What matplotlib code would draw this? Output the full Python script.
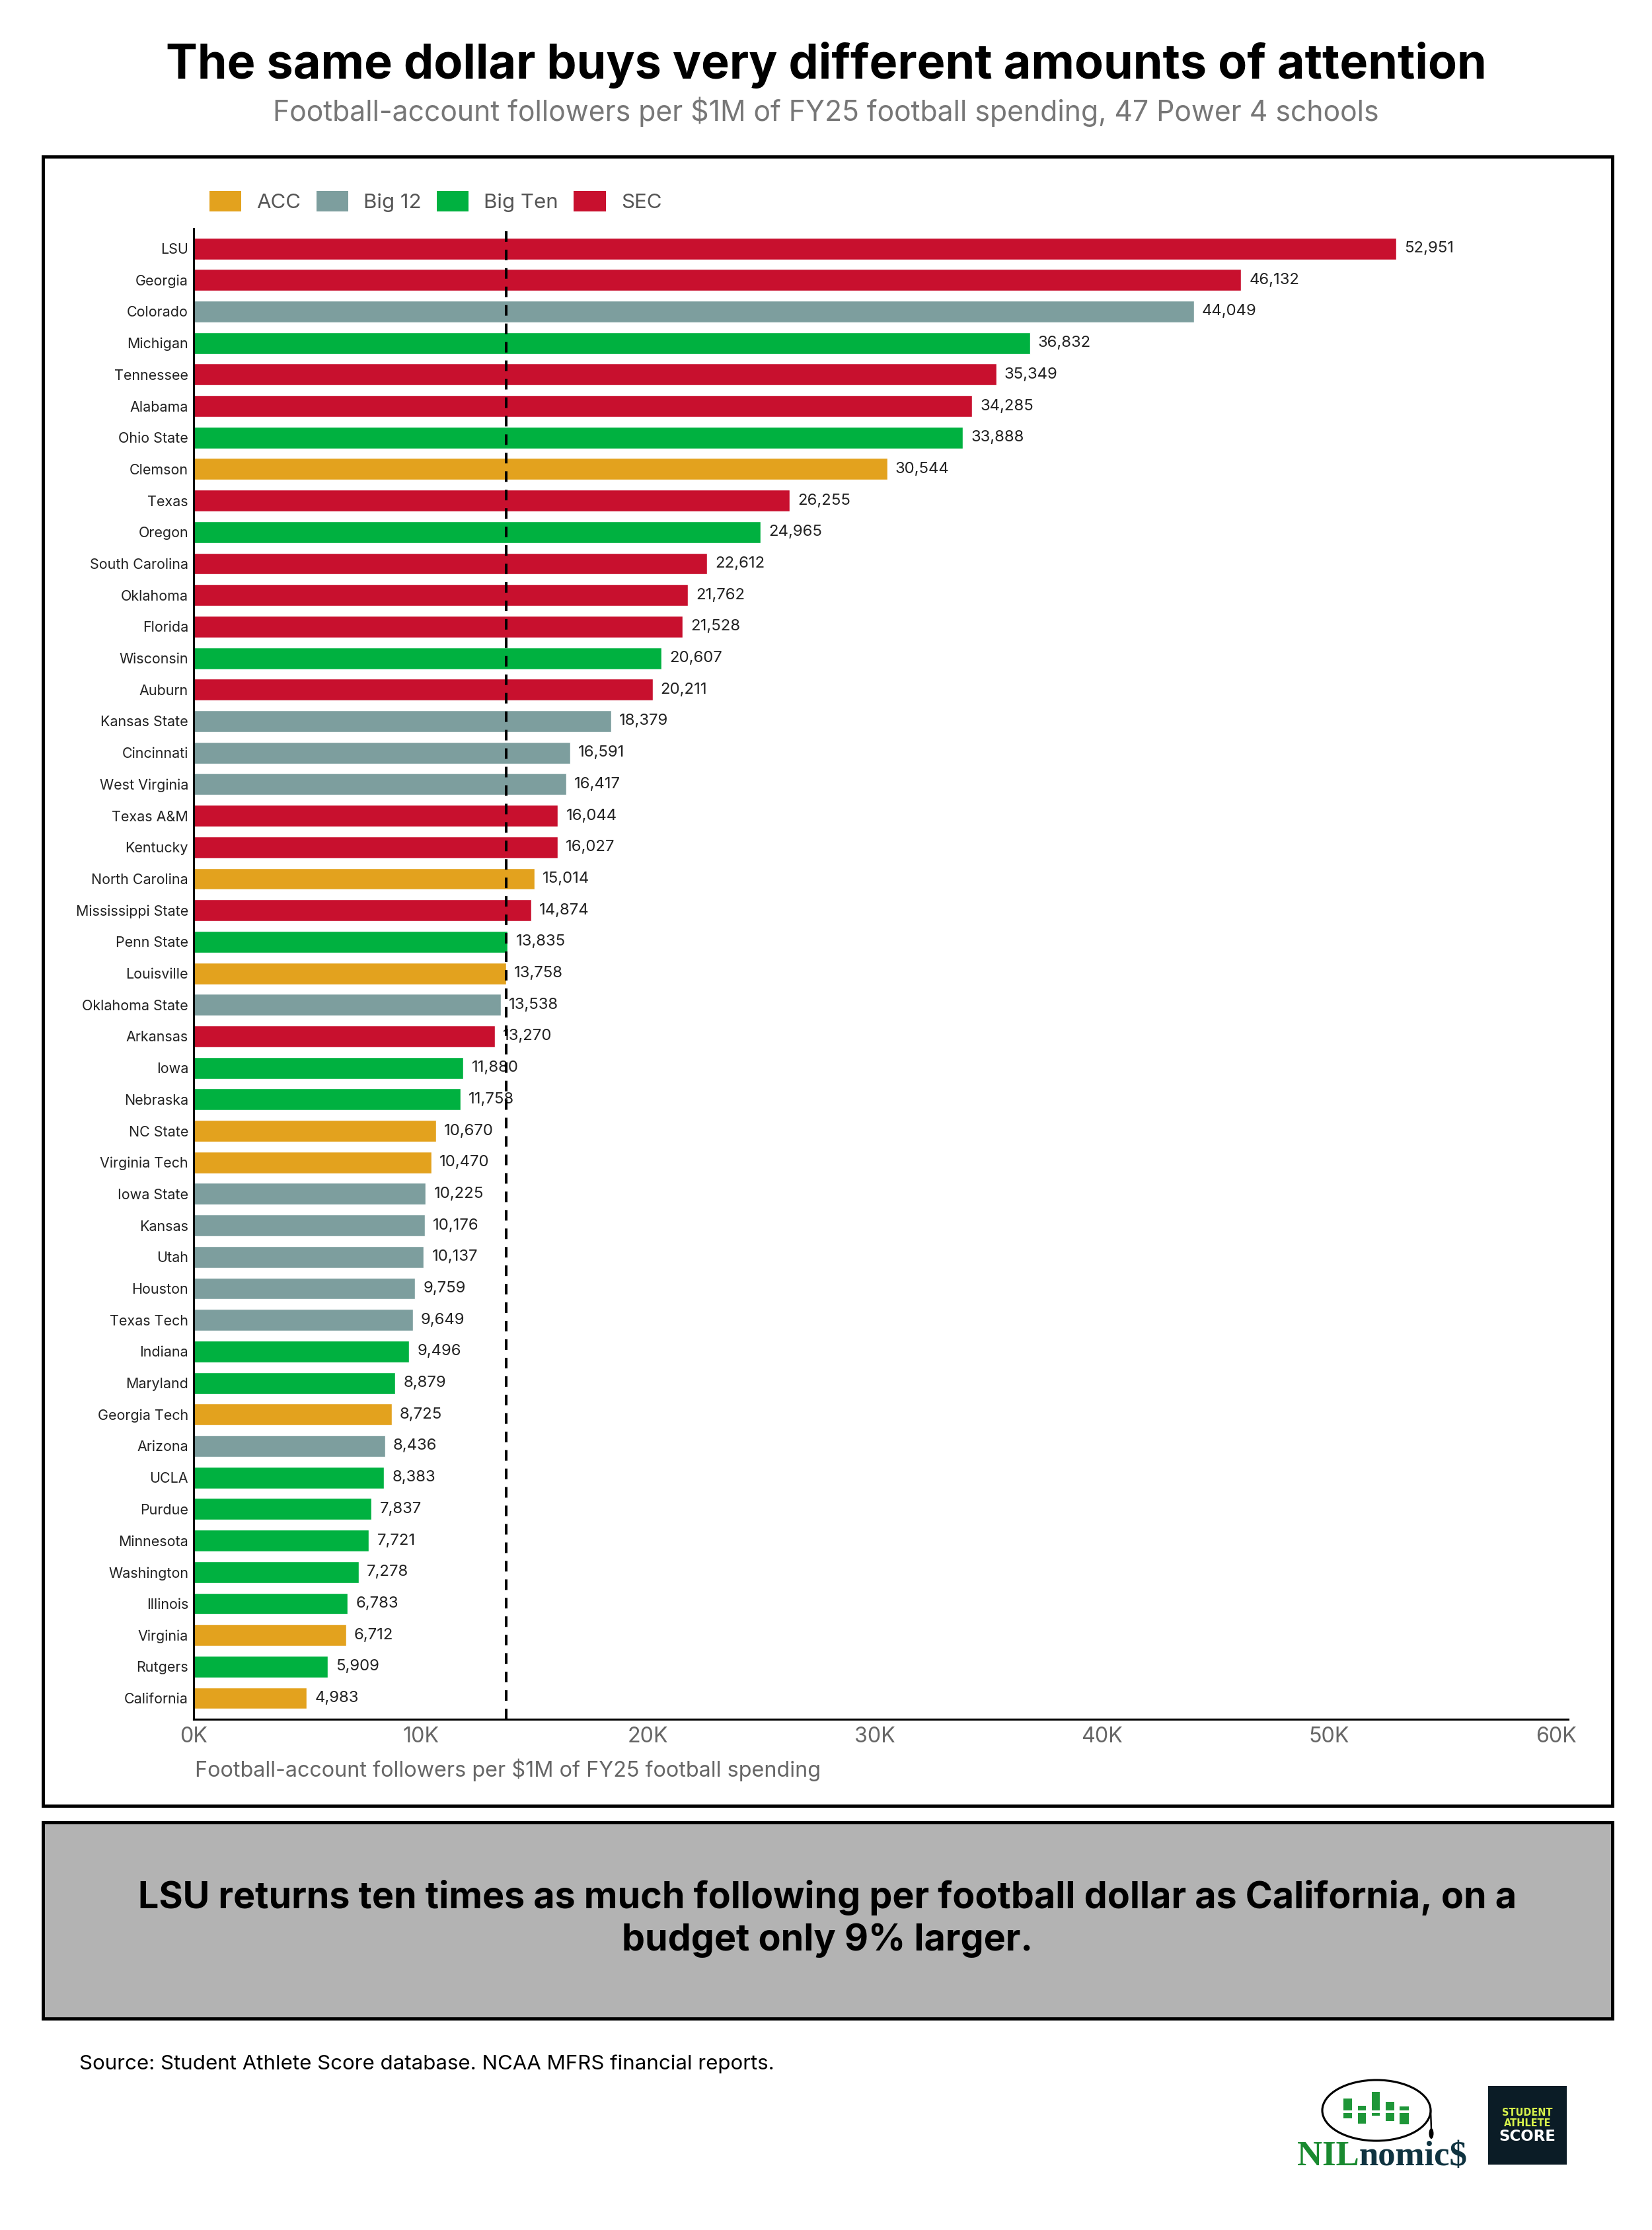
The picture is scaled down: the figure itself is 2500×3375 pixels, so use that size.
import numpy as np
import matplotlib
matplotlib.use("Agg")
import matplotlib.pyplot as plt
from matplotlib.patches import Patch, Rectangle, Ellipse

plt.rcParams['font.family'] = ['Inter', 'DejaVu Sans']

schools = ["LSU", "Georgia", "Colorado", "Michigan", "Tennessee", "Alabama", "Ohio State",
           "Clemson", "Texas", "Oregon", "South Carolina", "Oklahoma", "Florida", "Wisconsin",
           "Auburn", "Kansas State", "Cincinnati", "West Virginia", "Texas A&M", "Kentucky",
           "North Carolina", "Mississippi State", "Penn State", "Louisville", "Oklahoma State",
           "Arkansas", "Iowa", "Nebraska", "NC State", "Virginia Tech", "Iowa State", "Kansas",
           "Utah", "Houston", "Texas Tech", "Indiana", "Maryland", "Georgia Tech", "Arizona",
           "UCLA", "Purdue", "Minnesota", "Washington", "Illinois", "Virginia", "Rutgers",
           "California"]
followers_per_1m = [52951, 46132, 44049, 36832, 35349, 34285, 33888, 30544, 26255, 24965,
                    22612, 21762, 21528, 20607, 20211, 18379, 16591, 16417, 16044, 16027,
                    15014, 14874, 13835, 13758, 13538, 13270, 11880, 11758, 10670, 10470,
                    10225, 10176, 10137, 9759, 9649, 9496, 8879, 8725, 8436, 8383,
                    7837, 7721, 7278, 6783, 6712, 5909, 4983]
conference = ["SEC", "SEC", "Big 12", "Big Ten", "SEC", "SEC", "Big Ten", "ACC", "SEC", "Big Ten",
              "SEC", "SEC", "SEC", "Big Ten", "SEC", "Big 12", "Big 12", "Big 12", "SEC", "SEC",
              "ACC", "SEC", "Big Ten", "ACC", "Big 12", "SEC", "Big Ten", "Big Ten", "ACC", "ACC",
              "Big 12", "Big 12", "Big 12", "Big 12", "Big 12", "Big Ten", "Big Ten", "ACC", "Big 12", "Big Ten",
              "Big Ten", "Big Ten", "Big Ten", "Big Ten", "ACC", "Big Ten", "ACC"]
conf_order = ["ACC", "Big 12", "Big Ten", "SEC"]
conf_colors = {"ACC": "#E3A21E", "Big 12": "#7D9E9E", "Big Ten": "#00B140", "SEC": "#C8102E"}
xticks = [0, 10000, 20000, 30000, 40000, 50000, 60000]
xtick_labels = ["0K", "10K", "20K", "30K", "40K", "50K", "60K"]

W, H = 2500, 3375
fig = plt.figure(figsize=(10, 13.5), dpi=250)

# background layer in pixel coordinates
bg = fig.add_axes([0, 0, 1, 1], zorder=0)
bg.set_xlim(0, W)
bg.set_ylim(H, 0)
bg.axis("off")

bg.text(1250, 98, "The same dollar buys very different amounts of attention",
        ha="center", va="center", fontsize=20.7, fontweight="bold", color="black")
bg.text(1250, 169, "Football-account followers per $1M of FY25 football spending, 47 Power 4 schools",
        ha="center", va="center", fontsize=12.3, color="#777777")

bg.add_patch(Rectangle((65, 237), 2375, 2496, facecolor="white", edgecolor="black", lw=1.4))
bg.add_patch(Rectangle((65, 2758), 2375, 297, facecolor="#B3B3B3", edgecolor="black", lw=1.4))
bg.text(1252, 2904, "LSU returns ten times as much following per football dollar as California, on a\nbudget only 9% larger.",
        ha="center", va="center", multialignment="center", fontsize=16, fontweight="bold",
        linespacing=1.3, color="black")
bg.text(120, 3124, "Source: Student Athlete Score database. NCAA MFRS financial reports.",
        ha="left", va="center", fontsize=9.0, color="black")
bg.text(295, 2679, "Football-account followers per $1M of FY25 football spending",
        ha="left", va="center", fontsize=9.3, color="#666666")

# NILnomics logo
bg.add_patch(Ellipse((2083, 3194), 164, 92, facecolor="none", edgecolor="black", lw=0.9))
green = "#1E9638"
for x0, w, segs in [(2033, 13, [(3176, 18), (3198, 8)]),
                    (2055, 12, [(3187, 7), (3198, 16)]),
                    (2076, 12, [(3166, 28), (3198, 4)]),
                    (2097, 13, [(3181, 13), (3198, 12)]),
                    (2118, 14, [(3188, 6), (3198, 17)])]:
    for y0, h in segs:
        bg.add_patch(Rectangle((x0, y0), w, h, facecolor=green, edgecolor="none"))
bg.plot([2165, 2166], [3194, 3222], color="black", lw=0.7)
bg.add_patch(Ellipse((2166, 3229), 7, 16, facecolor="black", edgecolor="none"))
t1 = bg.text(1963, 3288, "NIL", ha="left", va="bottom", fontsize=15.2, fontweight="bold",
             family="Liberation Serif", color="#1A8A30")
bg.annotate("nomic$", xy=(1, 0), xycoords=t1, ha="left", va="bottom", fontsize=15.2,
            fontweight="bold", family="Liberation Serif", color="#0F3340")

# Student Athlete Score logo
bg.add_patch(Rectangle((2252, 3157), 119, 119, facecolor="#0B1C26", edgecolor="none"))
bg.text(2311.5, 3197, "STUDENT", ha="center", va="center", fontsize=4.2, fontweight="bold",
        family="DejaVu Sans", color="#D7F24B")
bg.text(2311.5, 3213, "ATHLETE", ha="center", va="center", fontsize=4.2, fontweight="bold",
        family="DejaVu Sans", color="#D7F24B")
bg.text(2311.5, 3234, "SCORE", ha="center", va="center", fontsize=6.6, fontweight="bold",
        family="DejaVu Sans", color="white")

# main chart
ax = fig.add_axes([293 / W, 1 - 2602 / H, (2373 - 293) / W, (2602 - 346) / H], zorder=2)
ax.set_facecolor("none")
ypos = np.arange(len(schools))
colors = [conf_colors[c] for c in conference]
bars = ax.barh(ypos, followers_per_1m, height=0.69, color=colors, edgecolor="white", linewidth=0.4, zorder=2)
ax.bar_label(bars, labels=[f"{v:,}" for v in followers_per_1m], padding=3.5, fontsize=6.9,
             color="#222222", zorder=3)
ax.axvline(np.median(followers_per_1m), color="black", lw=1.15, dashes=(4, 3), zorder=5)

ax.set_ylim(len(schools) - 1 + 0.67, -0.63)
ax.set_xlim(0, 60530)
ax.set_yticks(ypos)
ax.set_yticklabels(schools, fontsize=6.2, color="#222222")
ax.set_xticks(xticks)
ax.set_xticklabels(xtick_labels, fontsize=9.3, color="#666666")
ax.tick_params(axis="y", length=0, pad=2.3)
ax.tick_params(axis="x", length=0, pad=3.2)
for side in ["top", "right"]:
    ax.spines[side].set_visible(False)
for side in ["left", "bottom"]:
    ax.spines[side].set_linewidth(0.9)
    ax.spines[side].set_color("black")

handles = [Patch(facecolor=conf_colors[c], edgecolor="none", label=c) for c in conf_order]
fig.legend(handles=handles, loc="center left", bbox_to_anchor=(317 / W, 1 - 305 / H),
           ncol=4, frameon=False, fontsize=9, labelcolor="#555555", handlelength=1.54,
           handleheight=1.12, handletextpad=0.74, columnspacing=0.75, borderpad=0, borderaxespad=0)

fig.savefig("out.png", dpi=250, facecolor="white")
